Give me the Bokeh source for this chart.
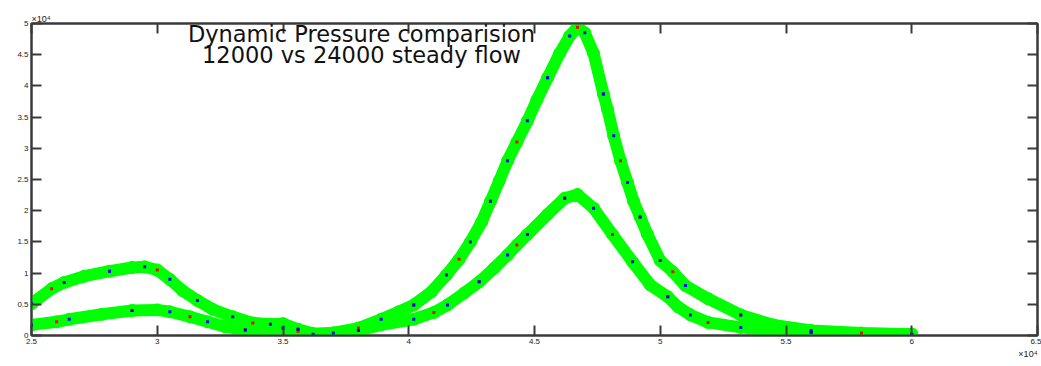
from bokeh.plotting import figure
from bokeh.models import Range1d, FixedTicker, LinearAxis, Label, Title
from bokeh.embed import file_html
from bokeh.resources import INLINE

# 24000 steady flow (x and y in units of 10^4)
x_hi = [2.50, 2.58, 2.63, 2.71, 2.81, 2.90, 2.95, 3.00, 3.05, 3.10, 3.16, 3.22, 3.30,
        3.38, 3.45, 3.50, 3.56, 3.62, 3.70, 3.80, 3.89, 3.96, 4.02, 4.09, 4.15, 4.20,
        4.245, 4.29, 4.325, 4.36, 4.393, 4.43, 4.472, 4.51, 4.552, 4.60, 4.64, 4.671,
        4.70, 4.735, 4.774, 4.79, 4.815, 4.842, 4.87, 4.894, 4.92, 4.949, 5.00, 5.05,
        5.10, 5.19, 5.32, 5.45, 5.60, 5.80, 6.00]
y_hi = [0.51, 0.75, 0.85, 0.95, 1.03, 1.09, 1.10, 1.05, 0.90, 0.72, 0.56, 0.42, 0.30,
        0.20, 0.18, 0.19, 0.10, 0.03, 0.04, 0.12, 0.26, 0.38, 0.49, 0.70, 0.97, 1.22,
        1.50, 1.82, 2.15, 2.48, 2.80, 3.10, 3.44, 3.78, 4.13, 4.52, 4.80, 4.94,
        4.85, 4.52, 3.87, 3.63, 3.20, 2.80, 2.45, 2.15, 1.90, 1.62, 1.20, 1.02,
        0.80, 0.59, 0.33, 0.17, 0.08, 0.04, 0.02]

# 12000 steady flow
x_lo = [2.50, 2.60, 2.65, 2.78, 2.90, 3.00, 3.05, 3.13, 3.20, 3.27, 3.35, 3.45, 3.50,
        3.56, 3.62, 3.70, 3.80, 3.89, 4.02, 4.10, 4.154, 4.22, 4.28, 4.34, 4.393, 4.43,
        4.472, 4.552, 4.62, 4.671, 4.735, 4.81, 4.89, 4.96, 5.03, 5.07, 5.12, 5.19,
        5.32, 5.45, 5.60, 5.80, 6.00]
y_lo = [0.17, 0.22, 0.26, 0.34, 0.40, 0.41, 0.38, 0.30, 0.22, 0.14, 0.09, 0.10, 0.12,
        0.07, 0.02, 0.04, 0.08, 0.17, 0.26, 0.37, 0.49, 0.68, 0.86, 1.08, 1.29, 1.45,
        1.62, 1.94, 2.20, 2.26, 2.04, 1.62, 1.18, 0.81, 0.62, 0.46, 0.33, 0.21,
        0.13, 0.08, 0.05, 0.03, 0.02]

x_ticks = [2.5, 3.0, 3.5, 4.0, 4.5, 5.0, 5.5, 6.0, 6.5]
x_tick_labels = ["2.5", "3", "3.5", "4", "4.5", "5", "5.5", "6", "6.5"]
y_ticks = [0.0, 0.5, 1.0, 1.5, 2.0, 2.5, 3.0, 3.5, 4.0, 4.5, 5.0]
y_tick_labels = ["0", "0.5", "1", "1.5", "2", "2.5", "3", "3.5", "4", "4.5", "5"]
title_lines = ["Dynamic Pressure comparision", "12000 vs 24000 steady flow"]
exponent_text = "\u00d710\u2074"

p = figure(width=1041, height=366, output_backend="svg", toolbar_location=None,
           x_range=Range1d(2.5, 6.5), y_range=Range1d(0, 5),
           min_border_left=31, min_border_right=4, min_border_top=23, min_border_bottom=31)
p.grid.visible = False
p.outline_line_color = "#3a3a3a"
p.outline_line_width = 2
p.background_fill_color = "white"
p.border_fill_color = "white"

def style_axis(ax, ticks, labels, show_labels=True):
    ax.ticker = FixedTicker(ticks=ticks)
    if show_labels:
        ax.major_label_overrides = {t: l for t, l in zip(ticks, labels)}
        ax.major_label_text_font_size = "8px"
        ax.major_label_standoff = 3
    else:
        ax.major_label_overrides = {t: "" for t in ticks}
        ax.major_label_text_font_size = "1px"
        ax.major_label_standoff = 0
    ax.axis_line_color = "#3a3a3a"
    ax.axis_line_width = 2
    ax.major_tick_line_color = "#3a3a3a"
    ax.major_tick_line_width = 2
    ax.major_tick_in = 10
    ax.major_tick_out = 0
    ax.minor_tick_line_color = None
    ax.major_label_text_font = "Liberation Sans"
    ax.major_label_text_color = "#222222"

style_axis(p.xaxis[0], x_ticks, x_tick_labels)
style_axis(p.yaxis[0], y_ticks, y_tick_labels)
top = LinearAxis()
right = LinearAxis()
style_axis(top, x_ticks, x_tick_labels, show_labels=False)
style_axis(right, y_ticks, y_tick_labels, show_labels=False)
p.add_layout(top, "above")
p.add_layout(right, "right")

green = "#00ff00"
for xs, ys in ((x_lo, y_lo), (x_hi, y_hi)):
    p.line(xs, ys, line_color=green, line_width=12, line_join="round", line_cap="round")
    p.scatter(xs, ys, marker="circle", size=12, fill_color=green, line_color=green)
for xs, ys in ((x_lo, y_lo), (x_hi, y_hi)):
    p.scatter(xs[1::3], ys[1::3], marker="square", size=3, fill_color="#ff0000", line_color=None)
    p.scatter(xs[0::2], ys[0::2], marker="square", size=3, fill_color="#0000ff", line_color=None)

for i, t in enumerate(title_lines):
    p.add_layout(Label(x=330, y=302 - 21 * i, x_units="screen", y_units="screen", text=t,
                       text_align="center", text_baseline="middle", text_font="DejaVu Sans",
                       text_font_size="22.5px", text_color="#111111"))

p.add_layout(Title(text=exponent_text, align="left", text_font="Liberation Sans",
                   text_font_size="9px", text_font_style="normal", text_color="#222222",
                   standoff=0, offset=0), "above")
p.add_layout(Title(text=exponent_text, align="right", text_font="Liberation Sans",
                   text_font_size="9px", text_font_style="normal", text_color="#222222",
                   standoff=0, offset=0), "below")

open("out.html", "w").write(file_html(p, INLINE))
